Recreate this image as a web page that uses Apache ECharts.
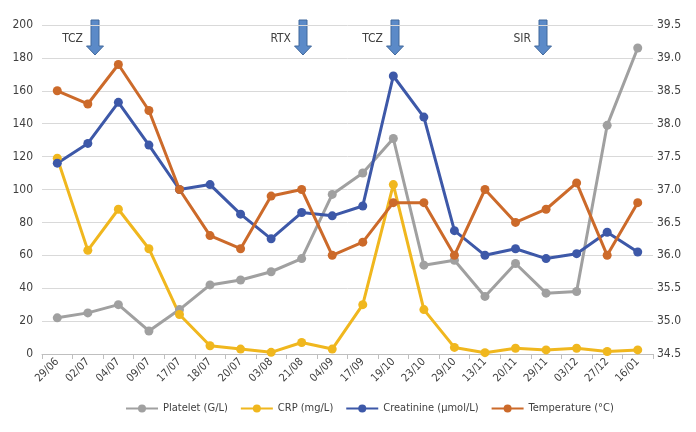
<!DOCTYPE html>
<html><head><meta charset="utf-8">
<script src="https://cdn.jsdelivr.net/npm/echarts@6/dist/echarts.min.js"></script>
<style>html,body{margin:0;padding:0;background:#fff}#c{width:696px;height:432px}</style>
</head><body><div id="c"></div>
<script>
const categories = ['29/06','02/07','04/07','09/07','17/07','18/07','20/07','03/08','21/08','04/09','17/09','19/10','23/10','29/10','13/11','20/11','29/11','03/12','27/12','16/01'];
const platelet = [22,25,30,14,27,42,45,50,58,97,110,131,54,57,35,55,37,38,139,186];
const crp = [119,63,88,64,24,5,3,1,7,3,30,103,27,4,0.8,3.5,2.5,3.5,1.5,2.5];
const creatinine = [116,128,153,127,100,103,85,70,86,84,90,169,144,75,60,64,58,61,74,62];
const temperature = [38.5,38.3,38.9,38.2,37.0,36.3,36.1,36.9,37.0,36.0,36.2,36.8,36.8,36.0,37.0,36.5,36.7,37.1,36.0,36.8];
const leftTicks = {min:0,max:200,interval:20};
const rightTicks = {min:34.5,max:39.5,interval:0.5};
const annotations = [{text:'TCZ',x:95},{text:'RTX',x:303},{text:'TCZ',x:395},{text:'SIR',x:543}];

const FONT = '"Liberation Sans Narrow","DejaVu Sans Condensed",sans-serif';
const chart = echarts.init(document.getElementById('c'));
function ser(name,data,color,axis){
  return {name,type:'line',data,yAxisIndex:axis,symbol:'circle',symbolSize:9,
    lineStyle:{width:3,color},itemStyle:{color},emphasis:{disabled:true}};
}
const graphics = [];
annotations.forEach(a=>{
  graphics.push({type:'polygon',shape:{points:[[a.x-4,20],[a.x+4,20],[a.x+4,46],[a.x+8.5,46],[a.x,55],[a.x-8.5,46],[a.x-4,46]]},
    style:{fill:'#5B8AC8',stroke:'#41689C',lineWidth:1}});
  graphics.push({type:'text',x:a.x-12,y:39,style:{text:a.text,fill:'#404040',font:'12px '+FONT,align:'right',verticalAlign:'middle'}});
});
chart.setOption({
  animation:false,
  textStyle:{fontFamily:FONT},
  grid:{left:42,right:43,top:25,bottom:78,containLabel:false},
  legend:{top:398,left:120,itemGap:12,itemWidth:32,itemHeight:10,
    textStyle:{fontFamily:FONT,fontSize:11,color:'#404040'},
    data:['Platelet (G/L)','CRP (mg/L)','Creatinine (µmol/L)','Temperature (°C)']},
  xAxis:{type:'category',data:categories,boundaryGap:true,
    axisLine:{lineStyle:{color:'#BFBFBF'}},
    axisTick:{show:true,alignWithLabel:false,length:5,lineStyle:{color:'#BFBFBF'}},
    axisLabel:{rotate:45,color:'#404040',fontSize:11,fontFamily:FONT,margin:6,interval:0}},
  yAxis:[
    {type:'value',min:leftTicks.min,max:leftTicks.max,interval:leftTicks.interval,
      axisLine:{show:false},axisTick:{show:false},
      splitLine:{lineStyle:{color:'#D9D9D9'}},
      axisLabel:{color:'#404040',fontSize:12,fontFamily:FONT,margin:9}},
    {type:'value',min:rightTicks.min,max:rightTicks.max,interval:rightTicks.interval,
      axisLine:{show:false},axisTick:{show:false},splitLine:{show:false},
      axisLabel:{color:'#404040',fontSize:12,fontFamily:FONT,margin:4,formatter:v=>v.toFixed(1)}}
  ],
  series:[
    ser('Platelet (G/L)',platelet,'#A0A0A0',0),
    ser('CRP (mg/L)',crp,'#F0B71E',0),
    ser('Creatinine (µmol/L)',creatinine,'#3D58A8',0),
    ser('Temperature (°C)',temperature,'#CC6A2A',1)
  ],
  graphic:graphics
});
</script></body></html>
